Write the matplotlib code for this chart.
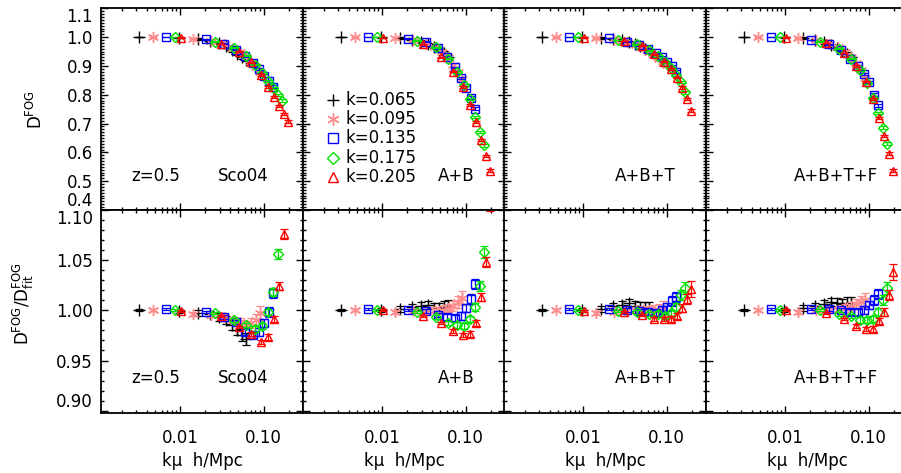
import numpy as np
import matplotlib
matplotlib.use('Agg')
import matplotlib.pyplot as plt
from matplotlib.ticker import MultipleLocator, NullFormatter, LogLocator

plt.rcParams['font.family'] = ['DejaVu Sans']
plt.rcParams['mathtext.fontset'] = 'dejavusans'
plt.rcParams['font.size'] = 12

K_VALUES = [0.065, 0.095, 0.135, 0.175, 0.205]
K_LABELS = ['k=0.065', 'k=0.095', 'k=0.135', 'k=0.175', 'k=0.205']
MU_BINS = [0.05, 0.15, 0.25, 0.35, 0.45, 0.55, 0.65, 0.75, 0.85, 0.95]
PANEL_NAMES = ['Sco04', 'A+B', 'A+B+T', 'A+B+T+F']

TOP_YTICKS = [0.4, 0.5, 0.6, 0.7, 0.8, 0.9, 1.0, 1.1]
BOT_YTICKS = [0.90, 0.95, 1.00, 1.05, 1.10]

# D^FOG, one row per k, one column per mu bin
DFOG_SCO04 = [
    [1.000, 0.998, 0.994, 0.988, 0.979, 0.968, 0.955, 0.943, 0.932, 0.922],
    [1.000, 0.995, 0.988, 0.975, 0.962, 0.948, 0.932, 0.915, 0.898, 0.880],
    [1.000, 0.993, 0.978, 0.957, 0.935, 0.912, 0.890, 0.867, 0.848, 0.828],
    [1.000, 0.985, 0.963, 0.936, 0.905, 0.875, 0.848, 0.823, 0.800, 0.780],
    [0.998, 0.976, 0.950, 0.913, 0.869, 0.827, 0.793, 0.760, 0.733, 0.707],
]
DFOG_AB = [
    [1.000, 1.000, 0.997, 0.992, 0.985, 0.977, 0.967, 0.957, 0.945, 0.932],
    [1.000, 0.997, 0.990, 0.978, 0.965, 0.950, 0.930, 0.905, 0.880, 0.855],
    [1.000, 0.995, 0.985, 0.962, 0.930, 0.895, 0.858, 0.825, 0.790, 0.751],
    [1.000, 0.988, 0.965, 0.925, 0.880, 0.835, 0.786, 0.723, 0.672, 0.624],
    [0.997, 0.975, 0.930, 0.880, 0.827, 0.765, 0.705, 0.643, 0.588, 0.536],
]
DFOG_ABT = [
    [1.000, 1.000, 0.998, 0.995, 0.990, 0.983, 0.976, 0.968, 0.960, 0.952],
    [1.000, 0.996, 0.990, 0.982, 0.972, 0.962, 0.950, 0.937, 0.925, 0.910],
    [1.000, 0.997, 0.985, 0.973, 0.958, 0.945, 0.930, 0.915, 0.900, 0.880],
    [1.000, 0.990, 0.975, 0.955, 0.935, 0.915, 0.894, 0.869, 0.844, 0.809],
    [0.998, 0.987, 0.971, 0.940, 0.915, 0.890, 0.860, 0.825, 0.786, 0.744],
]
DFOG_ABTF = [
    [1.000, 1.000, 0.997, 0.990, 0.982, 0.972, 0.962, 0.952, 0.942, 0.932],
    [1.000, 0.996, 0.990, 0.978, 0.965, 0.950, 0.930, 0.910, 0.885, 0.860],
    [1.000, 0.990, 0.975, 0.955, 0.925, 0.900, 0.873, 0.844, 0.800, 0.763],
    [1.000, 0.985, 0.960, 0.925, 0.885, 0.840, 0.790, 0.737, 0.686, 0.630],
    [0.998, 0.980, 0.945, 0.900, 0.846, 0.785, 0.720, 0.658, 0.596, 0.536],
]

# D^FOG / D^FOG_fit
RATIO_SCO04 = [
    [1.000, 0.999, 0.997, 0.996, 0.993, 0.990, 0.985, 0.980, 0.975, 0.971],
    [1.000, 0.996, 0.995, 0.993, 0.990, 0.988, 0.985, 0.987, 0.990, 0.997],
    [1.001, 0.998, 0.993, 0.988, 0.978, 0.975, 0.978, 0.987, 0.998, 1.017],
    [1.000, 0.997, 0.990, 0.985, 0.981, 0.984, 0.998, 1.018, 1.056, 1.130],
    [0.999, 0.994, 0.983, 0.976, 0.968, 0.973, 0.991, 1.024, 1.076, 1.150],
]
RATIO_AB = [
    [1.000, 1.000, 1.001, 1.003, 1.004, 1.005, 1.002, 1.002, 1.003, 1.004],
    [1.000, 0.998, 0.999, 0.998, 1.000, 1.000, 1.002, 1.004, 1.008, 1.012],
    [1.001, 1.000, 0.999, 0.995, 0.993, 0.992, 0.994, 1.002, 1.011, 1.026],
    [1.000, 0.998, 0.993, 0.987, 0.985, 0.984, 0.991, 1.003, 1.024, 1.058],
    [1.000, 0.994, 0.987, 0.979, 0.975, 0.976, 0.987, 1.013, 1.048, 1.107],
]
RATIO_ABT = [
    [1.000, 1.000, 1.001, 1.004, 1.005, 1.007, 1.004, 1.003, 1.002, 1.002],
    [1.000, 0.997, 0.998, 0.999, 1.000, 1.000, 1.000, 1.000, 1.000, 1.002],
    [1.001, 1.001, 1.000, 0.999, 0.998, 0.997, 1.000, 1.003, 1.009, 1.013],
    [1.000, 0.999, 0.998, 0.996, 0.996, 0.994, 0.997, 1.003, 1.015, 1.022],
    [0.999, 0.998, 0.995, 0.991, 0.991, 0.991, 0.994, 1.002, 1.011, 1.021],
]
RATIO_ABTF = [
    [1.000, 1.000, 1.002, 1.004, 1.006, 1.008, 1.007, 1.006, 1.007, 1.007],
    [1.000, 0.998, 1.000, 1.000, 1.000, 1.002, 1.004, 1.006, 1.008, 1.010],
    [1.001, 1.001, 1.001, 1.000, 0.998, 0.998, 1.000, 1.005, 1.010, 1.016],
    [1.000, 1.000, 0.996, 0.994, 0.990, 0.990, 0.991, 0.998, 1.010, 1.022],
    [1.000, 0.997, 0.991, 0.984, 0.981, 0.981, 0.989, 0.998, 1.015, 1.038],
]

ERR_DFOG = [
    [0.001, 0.002, 0.003, 0.003, 0.004, 0.004, 0.005, 0.005, 0.006, 0.006],
    [0.001, 0.002, 0.002, 0.003, 0.003, 0.004, 0.004, 0.005, 0.005, 0.006],
    [0.001, 0.001, 0.002, 0.002, 0.003, 0.003, 0.004, 0.004, 0.005, 0.005],
    [0.001, 0.001, 0.002, 0.002, 0.003, 0.003, 0.003, 0.004, 0.004, 0.005],
    [0.001, 0.001, 0.001, 0.002, 0.002, 0.003, 0.003, 0.004, 0.004, 0.005],
]
ERR_RATIO = [
    [0.001, 0.002, 0.003, 0.003, 0.004, 0.004, 0.005, 0.005, 0.006, 0.006],
    [0.001, 0.002, 0.002, 0.003, 0.003, 0.004, 0.004, 0.005, 0.006, 0.007],
    [0.001, 0.001, 0.002, 0.002, 0.003, 0.003, 0.004, 0.004, 0.005, 0.005],
    [0.001, 0.001, 0.002, 0.002, 0.003, 0.003, 0.003, 0.004, 0.005, 0.006],
    [0.001, 0.001, 0.001, 0.002, 0.002, 0.003, 0.003, 0.004, 0.005, 0.008],
]

STYLES = [
    dict(marker='+', color='black', ms=8),
    dict(marker=(6, 2, 0), color='#ff8c8c', ms=8),
    dict(marker='s', color='#0000ff', ms=6),
    dict(marker='D', color='#00e000', ms=5),
    dict(marker='^', color='#ff0000', ms=6),
]

W, H = 901, 473
LEFTS = [101, 303, 504, 706]
PW = 202


def draw_series(ax, values, errors):
    for k, vals, errs, st in zip(K_VALUES, values, errors, STYLES):
        x = k * np.array(MU_BINS)
        ax.errorbar(x, vals, yerr=errs, fmt='none', ecolor=st['color'],
                    elinewidth=0.9, capsize=3, capthick=0.9)
        ax.plot(x, vals, linestyle='none', marker=st['marker'], ms=st['ms'],
                mec=st['color'], mfc='none', mew=1.0)


def style_axes(ax):
    ax.set_xscale('log')
    ax.set_xlim(0.00113, 0.297)
    ax.xaxis.set_major_locator(LogLocator(base=10, numticks=10))
    ax.xaxis.set_minor_locator(LogLocator(base=10, subs=np.arange(2, 10), numticks=20))
    ax.xaxis.set_minor_formatter(NullFormatter())
    ax.tick_params(which='both', direction='in', top=True, right=True, width=1.0)
    ax.tick_params(which='major', length=5)
    ax.tick_params(which='minor', length=2.5)
    ax.tick_params(axis='x', pad=12)
    ax.tick_params(axis='y', pad=6)
    for sp in ax.spines.values():
        sp.set_linewidth(1.3)


top_sets = [DFOG_SCO04, DFOG_AB, DFOG_ABT, DFOG_ABTF]
bot_sets = [RATIO_SCO04, RATIO_AB, RATIO_ABT, RATIO_ABTF]

fig = plt.figure(figsize=(W / 100, H / 100), dpi=100)

for i in range(4):
    l = LEFTS[i]
    ax_t = fig.add_axes([l / W, 263 / H, PW / W, 201.6 / H])
    ax_b = fig.add_axes([l / W, 60.3 / H, PW / W, 202.7 / H])

    draw_series(ax_t, top_sets[i], ERR_DFOG)
    draw_series(ax_b, bot_sets[i], ERR_RATIO)

    for ax in (ax_t, ax_b):
        style_axes(ax)

    ax_t.set_ylim(0.4, 1.1)
    ax_t.set_yticks(TOP_YTICKS, ['%.1f' % v for v in TOP_YTICKS])
    ax_t.yaxis.set_minor_locator(MultipleLocator(0.01))
    ax_t.set_xticklabels([])

    ax_b.set_ylim(0.898, 1.10)
    ax_b.set_yticks(BOT_YTICKS, ['%.2f' % v for v in BOT_YTICKS])
    ax_b.yaxis.set_minor_locator(MultipleLocator(0.01))
    ax_b.set_xticks([0.01, 0.1], ['0.01', '0.10'])
    ax_b.set_xlabel('k\u03bc  h/Mpc', fontsize=12)
    ax_b.xaxis.set_label_coords(0.5, -0.195)

    if i > 0:
        ax_t.set_yticklabels([])
        ax_b.set_yticklabels([])
    else:
        # end labels are nudged inward so they don't collide at the row seam
        tl = ax_t.get_yticklabels()
        tl[0].set_verticalalignment('bottom')
        tl[-1].set_verticalalignment('top')
        bl = ax_b.get_yticklabels()
        bl[0].set_verticalalignment('bottom')
        bl[-1].set_verticalalignment('top')
        ax_t.set_ylabel(r'D$^{\rm FOG}$', fontsize=12)
        ax_t.yaxis.set_label_coords(-0.27, 0.5)
        ax_b.set_ylabel(r'D$^{\rm FOG}$/D$^{\rm FOG}_{\rm fit}$', fontsize=12)
        ax_b.yaxis.set_label_coords(-0.32, 0.54)

    for ax in (ax_t, ax_b):
        if i == 0:
            ax.text(0.152, 0.17, 'z=0.5', transform=ax.transAxes, ha='left', va='center')
            ax.text(0.83, 0.17, 'Sco04', transform=ax.transAxes, ha='right', va='center')
        else:
            ax.text(0.85, 0.17, PANEL_NAMES[i], transform=ax.transAxes,
                    ha='right', va='center')

    if i == 1:
        for j, (lab, st) in enumerate(zip(K_LABELS, STYLES)):
            yy = 0.546 - j * 0.0955
            ax_t.plot([0.15], [yy], transform=ax_t.transAxes, linestyle='none',
                      marker=st['marker'], ms=st['ms'] + 1, mec=st['color'],
                      mfc='none', mew=1.0, clip_on=False)
            ax_t.text(0.21, yy, lab, transform=ax_t.transAxes, ha='left', va='center')

fig.savefig('out.png', dpi=100)
